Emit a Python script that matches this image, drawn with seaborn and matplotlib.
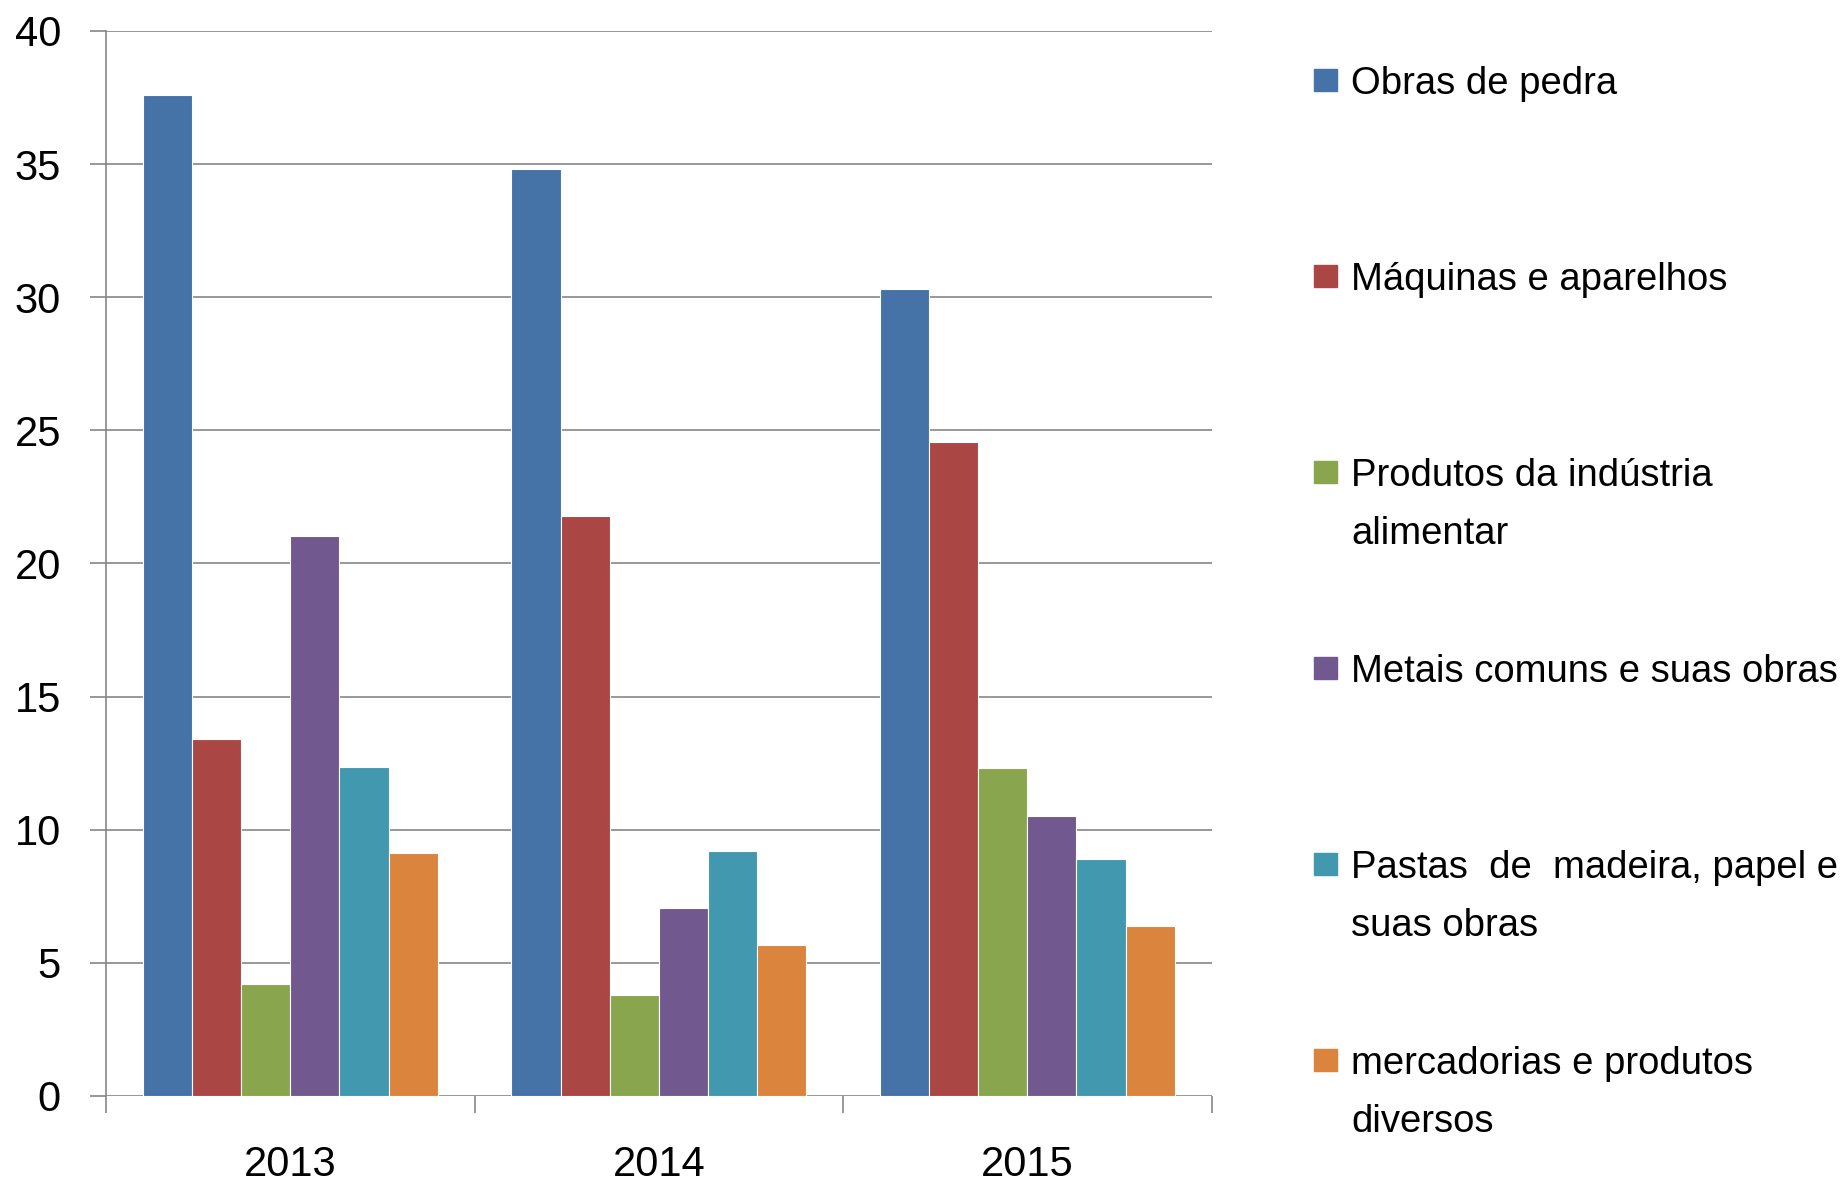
import seaborn as sns
import pandas as pd
import matplotlib.pyplot as plt
from matplotlib.patches import Rectangle

# dados
anos = ["2013", "2014", "2015"]
produtos = [
    "Obras de pedra",
    "Máquinas e aparelhos",
    "Produtos da indústria\nalimentar",
    "Metais comuns e suas obras",
    "Pastas  de  madeira, papel e\nsuas obras",
    "mercadorias e produtos\ndiversos",
]
obras_pedra = [37.6, 34.8, 30.3]
maquinas = [13.4, 21.8, 24.55]
alimentar = [4.2, 3.8, 12.3]
metais = [21.05, 7.05, 10.5]
pastas = [12.35, 9.2, 8.9]
diversos = [9.13, 5.67, 6.4]
cores = ["#4572A7", "#AA4643", "#89A54E", "#71588F", "#4198AF", "#DB843D"]

series = [obras_pedra, maquinas, alimentar, metais, pastas, diversos]
df = pd.DataFrame([
    {"ano": a, "produto": p, "valor": v}
    for p, vals in zip(produtos, series)
    for a, v in zip(anos, vals)
])

# tema e forma
sns.set_theme(style="white")
fonte = ["Liberation Sans", "DejaVu Sans"]
plt.rcParams["font.family"] = fonte
plt.rcParams["text.color"] = "black"
plt.rcParams["xtick.color"] = "black"
plt.rcParams["ytick.color"] = "black"
cinza = "#868686"

fig = plt.figure(figsize=(18.44, 11.87), dpi=100)
ax = fig.add_axes([0.0575, 0.0767, 0.5995, 0.8972])

sns.barplot(data=df, x="ano", y="valor", hue="produto", hue_order=produtos,
            palette=cores, saturation=1, width=0.8, edgecolor="white",
            linewidth=0.8, legend=False, ax=ax)

# eixos
ax.set_ylim(0, 40)
ax.set_xlim(-0.5, 2.5)
ax.set_yticks(range(0, 41, 5))
ax.set_xticks([-0.5, 0.5, 1.5, 2.5], minor=True)
ax.yaxis.grid(True, color=cinza, linewidth=1.2)
ax.set_axisbelow(True)
ax.set_xlabel("")
ax.set_ylabel("")
for lado in ["top", "right", "bottom"]:
    ax.spines[lado].set_visible(False)
ax.spines["left"].set_color(cinza)
ax.spines["left"].set_linewidth(1.2)
ax.tick_params(axis="y", which="major", direction="out", length=11.5, width=1.2,
               color=cinza, labelcolor="black", labelsize=30, pad=21, left=True)
ax.tick_params(axis="x", which="major", length=0, labelsize=30,
               labelcolor="black", pad=35)
ax.tick_params(axis="x", which="minor", direction="out", length=12, width=1.2,
               color=cinza, bottom=True)

# legenda manual (cada linha do rotulo separada, como no Excel)
y0 = 0.9326
passo = 0.1651
entrelinha = 0.0486
for i, (p, c) in enumerate(zip(produtos, cores)):
    y = y0 - i * passo
    fig.patches.append(Rectangle((0.7126, y - 0.0095), 0.0125, 0.019,
                                 transform=fig.transFigure, color=c))
    for j, linha in enumerate(p.split("\n")):
        fig.text(0.7327, y - j * entrelinha, linha, fontsize=27.5,
                 va="center_baseline", ha="left", family=fonte, color="black")

plt.savefig("out.png", dpi=100)
